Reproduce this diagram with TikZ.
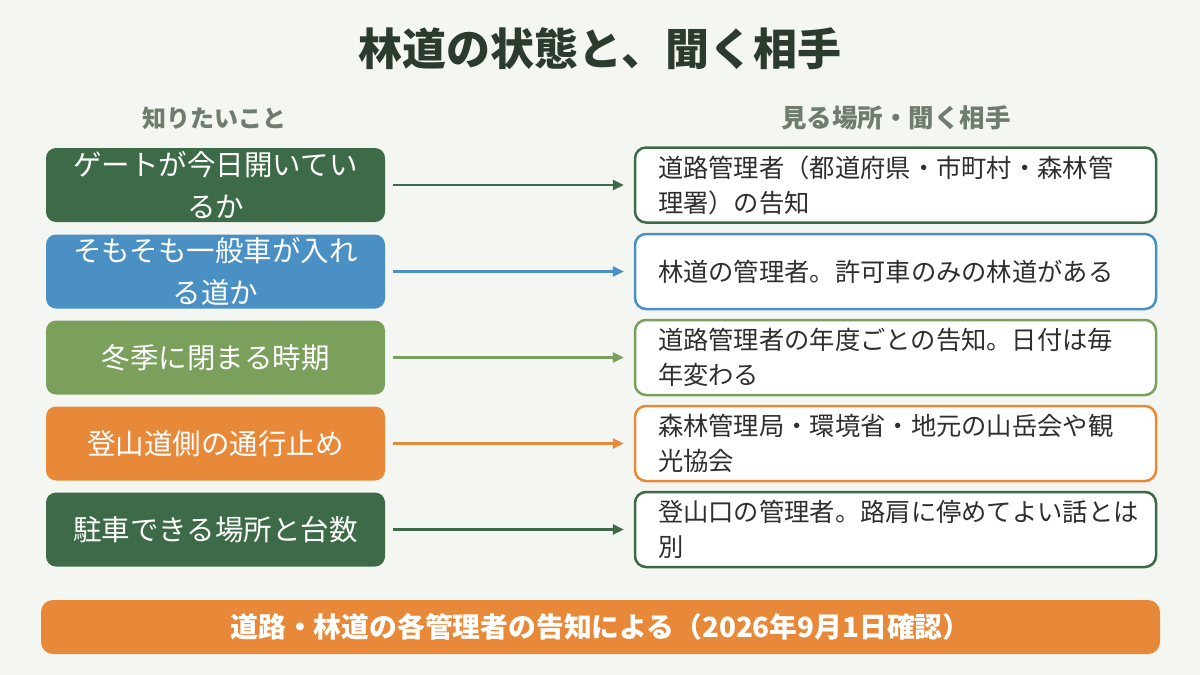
\documentclass[tikz,border=0pt]{standalone}
\usepackage{fontspec}
\setmainfont{Noto Sans CJK JP}
\usetikzlibrary{arrows.meta}

\definecolor{paper}{HTML}{F4F6F1}
\definecolor{titleink}{HTML}{2B3B2E}
\definecolor{headink}{HTML}{6E7D6E}
\definecolor{bodyink}{HTML}{2F2F2F}
\definecolor{forest}{HTML}{3D6B47}
\definecolor{sky}{HTML}{4A90C4}
\definecolor{leaf}{HTML}{7BA05B}
\definecolor{amber}{HTML}{E8893A}

\begin{document}
\begin{tikzpicture}[x=1pt, y=-1pt,
  askbox/.style={rectangle, rounded corners=10pt, minimum width=339pt, minimum height=74pt,
    inner sep=0pt, text=white, align=center, font=\fontsize{28.5}{42}\selectfont},
  wherebox/.style={rectangle, rounded corners=11pt, draw, line width=2.5pt, fill=white,
    text=bodyink, text width=475pt, inner xsep=23pt, inner ysep=0pt, align=left,
    minimum height=75pt, font=\fontsize{25.3}{35}\selectfont},
  colhead/.style={text=headink, font=\fontsize{24}{28}\selectfont\bfseries},
  link/.style={line width=2.5pt, -{Triangle[length=11pt,width=10pt]}, shorten <=8pt, shorten >=10pt}]
  \fill[paper] (0,0) rectangle (1200,675);
  \useasboundingbox (0,0) rectangle (1200,675);

  % title and column heads
  \node[text=titleink, font=\fontsize{44}{52}\selectfont\bfseries] (title) at (600,49) {林道の状態と、聞く相手};
  \node[colhead] (hask) at (214,118) {知りたいこと};
  \node[colhead, font=\fontsize{25.5}{28}\selectfont\bfseries] (hwhere) at (896,118) {見る場所・聞く相手};

  % left column
  \node[askbox, fill=forest] (q1) at (215.5,185) {ゲートが今日開いてい\\るか};
  \node[askbox, fill=sky] (q2) at (215.5,271.5) {そもそも一般車が入れ\\る道か};
  \node[askbox, fill=leaf] (q3) at (215.5,357.5) {冬季に閉まる時期};
  \node[askbox, fill=amber] (q4) at (215.5,443.5) {登山道側の通行止め};
  \node[askbox, fill=forest] (q5) at (215.5,529.5) {駐車できる場所と台数};

  % right column
  \node[wherebox, draw=forest] (a1) at (895.5,185) {道路管理者（都道府県・市町村・森林管\\理署）の告知};
  \node[wherebox, draw=sky] (a2) at (895.5,271.5) {林道の管理者。許可車のみの林道がある};
  \node[wherebox, draw=leaf] (a3) at (895.5,357.5) {道路管理者の年度ごとの告知。日付は毎\\年変わる};
  \node[wherebox, draw=amber] (a4) at (895.5,443.5) {森林管理局・環境省・地元の山岳会や観\\光協会};
  \node[wherebox, draw=forest] (a5) at (895.5,529.5) {登山口の管理者。路肩に停めてよい話とは\\別};

  \draw[link, forest] (q1.east) -- (a1.west);
  \draw[link, sky] (q2.east) -- (a2.west);
  \draw[link, leaf] (q3.east) -- (a3.west);
  \draw[link, amber] (q4.east) -- (a4.west);
  \draw[link, forest] (q5.east) -- (a5.west);

  % footer
  \node[rectangle, rounded corners=12pt, fill=amber, minimum width=1119pt, minimum height=54pt,
    text=white, font=\fontsize{27.8}{32}\selectfont\bfseries] (note) at (600.5,627)
    {道路・林道の各管理者の告知による（2026年9月1日確認）};
\end{tikzpicture}
\end{document}
